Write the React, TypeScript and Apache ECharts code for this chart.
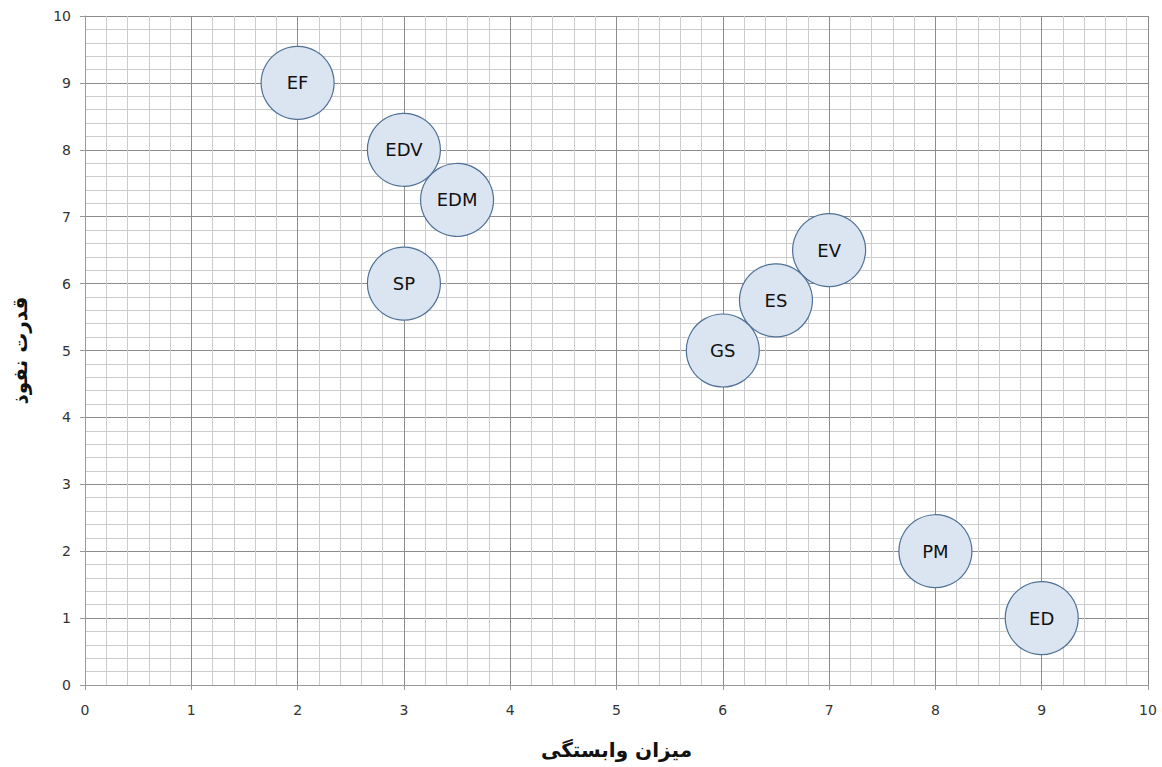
import React, { useEffect, useRef } from "react";
import * as echarts from "echarts";

const labels = ["EF", "EDV", "EDM", "SP", "EV", "ES", "GS", "PM", "ED"];
const xValues = [2, 3, 3.5, 3, 7, 6.5, 6, 8, 9];
const yValues = [9, 8, 7.25, 6, 6.5, 5.75, 5, 2, 1];
const xTitle = "میزان وابستگی";
const yTitle = "قدرت نفوذ";

export default function App() {
  const ref = useRef<HTMLDivElement>(null);
  useEffect(() => {
    const chart = echarts.init(ref.current!, null, { renderer: "svg" });
    const axisCommon = {
      min: 0,
      max: 10,
      interval: 1,
      nameLocation: "middle" as const,
      nameTextStyle: { fontFamily: "DejaVu Sans", fontWeight: "bold", fontSize: 20, color: "#111" },
      axisLine: { show: true, lineStyle: { color: "#999", width: 1 } },
      axisTick: { show: true, inside: false, length: 5, lineStyle: { color: "#999" } },
      axisLabel: { fontFamily: "DejaVu Sans", fontSize: 14, color: "#333" },
      splitLine: { show: true, lineStyle: { color: "#8c8c8c", width: 1 } },
      minorTick: { show: false, splitNumber: 5 },
      minorSplitLine: { show: true, lineStyle: { color: "#cccccc", width: 1 } },
    };
    chart.setOption({
      animation: false,
      backgroundColor: "#fff",
      grid: { left: 85, right: 14, top: 16, bottom: 82, containLabel: false },
      xAxis: {
        ...axisCommon,
        type: "value",
        name: xTitle,
        nameGap: 55,
        axisLabel: { ...axisCommon.axisLabel, margin: 18 },
      },
      yAxis: {
        ...axisCommon,
        type: "value",
        name: yTitle,
        nameGap: 55,
        nameRotate: 90,
        axisLabel: { ...axisCommon.axisLabel, margin: 14 },
      },
      series: [
        {
          type: "scatter",
          symbol: "circle",
          symbolSize: 73,
          data: labels.map((l, i) => ({ name: l, value: [xValues[i], yValues[i]] })),
          itemStyle: { color: "#dbe5f1", opacity: 1, borderColor: "#4f7196", borderWidth: 1.2 },
          label: {
            show: true,
            position: "inside",
            formatter: (p: any) => p.name,
            fontFamily: "DejaVu Sans",
            fontSize: 18,
            color: "#111",
          },
        },
      ],
    });
    return () => chart.dispose();
  }, []);
  return (
    <div
      ref={ref}
      style={{ position: "fixed", left: 0, top: 0, width: 1162, height: 767 }}
    />
  );
}
